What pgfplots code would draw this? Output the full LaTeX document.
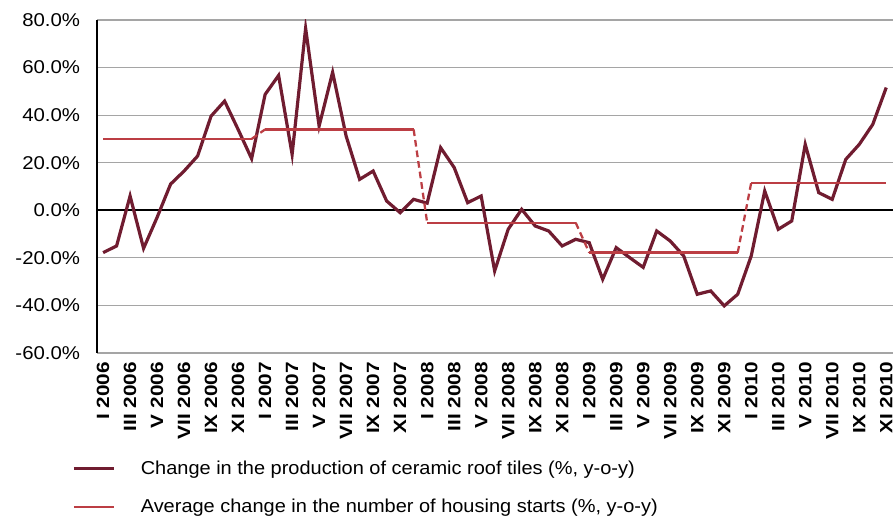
\documentclass[border=0pt]{standalone}
\usepackage{pgfplots}
\pgfplotsset{compat=1.18}
\usepackage{fontspec}
\setmainfont{Liberation Sans}
\newfontfamily\ylabfont{Liberation Sans}[FakeStretch=1.10]
\newfontfamily\xlabfont{Liberation Sans}[FakeStretch=1.17]
\newfontfamily\legfont{Liberation Sans}[FakeStretch=1.07]
\definecolor{tileline}{RGB}{112,28,48}
\definecolor{avgline}{RGB}{188,62,68}
\definecolor{gridgray}{RGB}{165,165,165}
\begin{document}
\begin{tikzpicture}
\useasboundingbox (-72.75pt,-125.25pt) rectangle (599.25pt,264.75pt);
\begin{axis}[
  at={(0,0)}, anchor=south west,
  scale only axis, width=597pt, height=249.75pt,
  xmin=-0.45, xmax=58.5, ymin=-60, ymax=80,
  axis x line=bottom, axis y line=left,
  x axis line style={draw=gridgray, line width=0.9pt, -},
  y axis line style={draw=black, line width=1.3pt, -},
  xtick={0,2,...,58},
  xticklabels={I 2006, III 2006, V 2006, VII 2006, IX 2006, XI 2006,
               I 2007, III 2007, V 2007, VII 2007, IX 2007, XI 2007,
               I 2008, III 2008, V 2008, VII 2008, IX 2008, XI 2008,
               I 2009, III 2009, V 2009, VII 2009, IX 2009, XI 2009,
               I 2010, III 2010, V 2010, VII 2010, IX 2010, XI 2010},
  x tick label style={rotate=90, anchor=east, font=\xlabfont\fontsize{13.3}{13.3}\selectfont\bfseries, inner sep=0pt},
  xticklabel shift=6.75pt,
  ytick={-60,-40,...,80},
  yticklabels={-60.0\%,-40.0\%,-20.0\%,0.0\%,20.0\%,40.0\%,60.0\%,80.0\%},
  y tick label style={font=\ylabfont\fontsize{13.9}{14}\selectfont, inner sep=0pt},
  yticklabel shift=12.5pt,
  major tick length=0pt,
  ymajorgrids, grid style={gridgray, line width=0.9pt},
  extra y ticks={0}, extra y tick labels={},
  extra y tick style={grid style={black, line width=1.3pt}},
  legend style={draw=none, fill=none, at={(axis description cs:0,0)}, anchor=north west,
    xshift=-18.75pt, yshift=-80.5pt, font=\legfont\fontsize{14}{15}\selectfont,
    row sep=17.5pt, inner sep=0pt, /tikz/every odd column/.append style={column sep=19pt},
    nodes={inner sep=0pt}},
  legend cell align=left,
  legend image code/.code={\draw[#1] (0pt,0pt) -- (30pt,0pt);},
]
\addplot[tileline, line width=2.4pt, line join=miter] coordinates {
(0,-17.8) (1,-15) (2,6) (3,-16) (4,-3) (5,11) (6,16.5) (7,22.8) (8,39.6) (9,45.9)
(10,34) (11,21.7) (12,48.7) (13,56.7) (14,23.5) (15,76.5) (16,35.4) (17,58) (18,31.2) (19,13)
(20,16.5) (21,3.9) (22,-1) (23,4.6) (24,3) (25,26.3) (26,18) (27,3.2) (28,6) (29,-25.5)
(30,-8) (31,0.4) (32,-6.6) (33,-8.7) (34,-15) (35,-12.2) (36,-13.6) (37,-29) (38,-15.7) (39,-19.9)
(40,-24) (41,-8.7) (42,-12.9) (43,-19.2) (44,-35.3) (45,-33.9) (46,-40.2) (47,-35.3) (48,-19.2) (49,8.1)
(50,-8) (51,-4.5) (52,27.7) (53,7.4) (54,4.6) (55,21.4) (56,27.7) (57,36.1) (58,51.6)};
\addlegendentry{Change in the production of ceramic roof tiles (\%, y-o-y)}
\addplot[avgline, line width=1.7pt] coordinates {(0,30) (11,30)};
\addlegendentry{Average change in the number of housing starts (\%, y-o-y)}
\addplot[avgline, line width=1.7pt, dash pattern=on 5pt off 3pt, forget plot] coordinates {(11,30) (12,34)};
\addplot[avgline, line width=1.7pt, forget plot] coordinates {(12,34) (23,34)};
\addplot[avgline, line width=1.7pt, dash pattern=on 5pt off 3pt, forget plot] coordinates {(23,34) (24,-5.2)};
\addplot[avgline, line width=1.7pt, forget plot] coordinates {(24,-5.2) (35,-5.2)};
\addplot[avgline, line width=1.7pt, dash pattern=on 5pt off 3pt, forget plot] coordinates {(35,-5.2) (36,-17.8)};
\addplot[avgline, line width=1.7pt, forget plot] coordinates {(36,-17.8) (47,-17.8)};
\addplot[avgline, line width=1.7pt, dash pattern=on 5pt off 3pt, forget plot] coordinates {(47,-17.8) (48,11.6)};
\addplot[avgline, line width=1.7pt, forget plot] coordinates {(48,11.6) (58,11.6)};
\end{axis}
\end{tikzpicture}
\end{document}
